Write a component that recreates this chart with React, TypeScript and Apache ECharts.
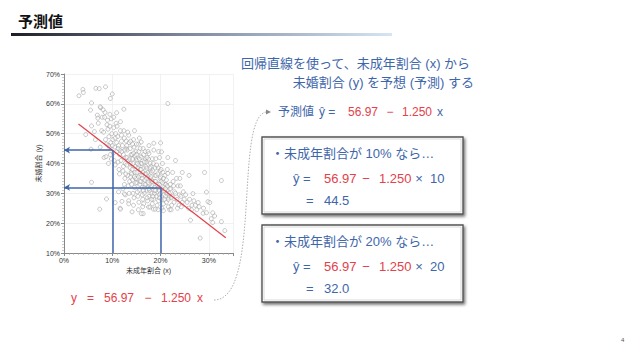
import React, { useEffect, useRef } from "react";
import * as echarts from "echarts";

// ---- data ----
const xAxisRange = [0, 35];
const yAxisRange = [10, 70];
const axisInterval = 10;
const regIntercept = 56.97;
const regSlope = -1.25;
const regXRange = [3, 33.5];
const predictXs = [10, 20];

const sparseUpperPoints: number[][] = [
  [3.1, 62.7], [3.9, 64.8], [4.0, 63.8], [6.6, 65.2], [7.3, 65.1], [8.6, 65.7], [9.6, 61.8], [10.0, 63.3],
  [5.7, 60.3], [5.5, 57.9], [7.6, 58.7], [8.5, 57.1], [6.9, 56.2], [7.0, 55.2], [10.9, 57.0], [4.5, 49.7],
  [5.7, 52.6], [6.3, 50.7], [5.6, 44.8], [5.7, 33.7], [7.4, 24.7], [7.1, 53.5], [7.8, 51.0], [6.5, 48.0],
  [7.9, 55.5], [7.5, 45.5], [8.1, 58.0], [12.4, 58.2], [7.5, 59.0], [21.5, 60.1],
];

const corePoints: number[][] = [
  [8.2, 50.5], [8.6, 48.0], [8.9, 53.0], [8.4, 55.5], [8.8, 46.5], [9.1, 51.5], [8.3, 42.0], [8.7, 42.3], [9.2, 40.0], [9.0, 54.5],
  [9.3, 49.0], [9.5, 52.5], [9.7, 47.0], [9.8, 55.0], [9.4, 45.5], [9.9, 50.0], [9.6, 43.0], [9.2, 46.0], [9.8, 41.5], [9.5, 56.5],
  [10.1, 48.0], [10.3, 52.0], [10.5, 45.5], [10.7, 50.0], [10.2, 43.5], [10.9, 47.0], [10.4, 41.0], [10.8, 53.5], [10.6, 39.5], [10.0, 46.0], [10.9, 44.0], [10.3, 55.5],
  [11.1, 49.0], [11.3, 46.0], [11.5, 43.0], [11.7, 51.0], [11.2, 40.5], [11.9, 47.5], [11.4, 38.0], [11.6, 44.5], [11.8, 41.0], [11.0, 52.5], [11.5, 36.5], [11.9, 49.5], [11.3, 30.5], [11.7, 54.0],
  [12.1, 46.0], [12.3, 43.0], [12.5, 48.5], [12.7, 40.0], [12.2, 37.5], [12.9, 45.0], [12.4, 51.0], [12.6, 35.0], [12.8, 42.0], [12.0, 44.0], [12.3, 39.0], [12.9, 47.5], [12.5, 33.0], [12.7, 29.5], [12.2, 31.5],
  [13.1, 44.5], [13.3, 41.0], [13.5, 47.0], [13.7, 38.5], [13.2, 36.0], [13.9, 43.0], [13.4, 49.5], [13.6, 34.0], [13.8, 40.0], [13.0, 46.0], [13.3, 32.5], [13.9, 37.0], [13.5, 30.0], [13.1, 42.0], [13.7, 45.0], [13.4, 27.5], [13.8, 35.5], [13.2, 50.5],
  [14.1, 43.0], [14.3, 40.0], [14.5, 45.5], [14.7, 37.0], [14.2, 34.5], [14.9, 41.5], [14.4, 48.0], [14.6, 32.0], [14.8, 39.0], [14.0, 36.5], [14.3, 30.0], [14.9, 44.0], [14.5, 28.5], [14.1, 38.0], [14.7, 42.5], [14.4, 26.0], [14.8, 35.0], [14.2, 46.5], [14.6, 51.0], [14.0, 33.0],
  [15.1, 41.0], [15.3, 38.5], [15.5, 44.0], [15.7, 36.0], [15.2, 33.5], [15.9, 40.0], [15.4, 46.5], [15.6, 31.0], [15.8, 38.0], [15.0, 35.0], [15.3, 29.0], [15.9, 42.5], [15.5, 27.0], [15.1, 37.0], [15.7, 33.0], [15.4, 24.5], [15.8, 45.0], [15.2, 30.5], [15.6, 48.5], [15.0, 43.0], [15.5, 39.5],
  [16.1, 40.0], [16.3, 37.0], [16.5, 43.0], [16.7, 34.5], [16.2, 32.0], [16.9, 39.0], [16.4, 45.0], [16.6, 30.0], [16.8, 36.5], [16.0, 34.0], [16.3, 28.0], [16.9, 41.5], [16.5, 26.5], [16.1, 36.0], [16.7, 32.0], [16.4, 23.2], [16.8, 44.0], [16.2, 29.5], [16.0, 47.2], [16.0, 42.0], [16.5, 38.5], [16.3, 25.5],
  [17.1, 38.5], [17.3, 35.5], [17.5, 41.5], [17.7, 33.0], [17.2, 31.0], [17.9, 37.5], [17.4, 44.0], [17.6, 29.0], [17.8, 35.0], [17.0, 33.0], [17.3, 27.5], [17.9, 40.0], [17.5, 25.4], [17.1, 35.0], [17.7, 31.0], [17.6, 43.3], [17.2, 28.5], [17.6, 46.0], [17.0, 40.5], [17.4, 37.0],
  [18.1, 37.0], [18.3, 34.0], [18.5, 40.0], [18.7, 32.0], [18.2, 30.0], [18.9, 36.0], [18.3, 41.6], [18.6, 28.0], [18.8, 34.0], [18.0, 32.0], [18.3, 26.5], [18.9, 38.5], [18.5, 24.7], [18.1, 34.5], [18.7, 30.0], [18.6, 46.8], [18.2, 28.0], [18.6, 44.5], [18.0, 39.0],
  [19.1, 36.0], [19.3, 33.0], [19.5, 38.5], [19.7, 31.0], [19.2, 29.0], [19.9, 35.0], [19.0, 41.6], [19.6, 27.5], [19.8, 33.0], [19.0, 31.0], [19.3, 26.0], [19.9, 37.5], [19.5, 24.5], [19.7, 29.5], [19.8, 42.0], [19.6, 44.0],
  [20.1, 34.0], [20.3, 31.5], [20.5, 37.0], [20.7, 29.5], [20.2, 28.0], [20.9, 33.0], [20.4, 40.0], [20.6, 26.5], [20.8, 31.0], [20.0, 30.0], [20.3, 25.0], [20.9, 36.0], [20.2, 43.9], [20.0, 46.9], [20.1, 38.0], [20.6, 24.2],
  [21.1, 33.0], [21.3, 30.0], [21.5, 36.7], [21.7, 28.5], [21.2, 27.0], [21.9, 31.5], [21.4, 38.0], [21.6, 25.5], [21.8, 30.0], [21.0, 29.0], [21.5, 42.0], [21.9, 24.5], [21.2, 34.5],
  [22.1, 31.5], [22.4, 29.0], [22.6, 34.0], [22.8, 27.0], [22.3, 26.0], [22.9, 30.5], [22.5, 37.0], [22.2, 24.5], [22.7, 32.5],
  [23.1, 30.0], [23.4, 28.0], [23.6, 32.5], [23.8, 26.0], [23.1, 41.0], [23.5, 25.0], [23.9, 29.5], [23.3, 35.0],
  [12.8, 36.5], [13.0, 39.5], [13.6, 41.5], [14.2, 41.5], [14.6, 35.5], [14.9, 33.5], [15.2, 40.0], [15.4, 35.5], [15.8, 34.0], [15.6, 41.5],
  [16.0, 38.0], [16.2, 35.0], [16.6, 40.5], [16.8, 33.0], [16.4, 31.0], [17.0, 36.5], [17.2, 42.0], [17.4, 33.5], [17.8, 38.5], [17.6, 31.5],
  [18.0, 35.5], [18.4, 37.5], [18.2, 32.5], [18.8, 31.0], [18.4, 29.0], [19.0, 34.0], [19.4, 36.5], [19.2, 39.5], [19.6, 32.0], [19.8, 28.5],
  [20.0, 35.5], [20.4, 33.5], [20.6, 35.0], [20.8, 28.0], [21.0, 31.5], [21.4, 32.5], [21.6, 28.0], [22.0, 33.0], [22.2, 28.5], [13.8, 47.5],
  [12.6, 44.5], [11.2, 45.0], [10.6, 48.5], [14.4, 43.5], [15.0, 46.5],
];

const sparseLowerPoints: number[][] = [
  [8.8, 28.1], [10.6, 26.9], [11.6, 25.0], [12.0, 27.3], [11.7, 24.7], [12.5, 29.8], [13.4, 26.5], [14.1, 23.8], [16.0, 23.2], [17.8, 25.4], [18.9, 24.7],
  [24.0, 35.0], [24.1, 32.5], [24.5, 37.0], [24.2, 29.0], [24.5, 27.0], [24.7, 30.5], [24.3, 25.5], [24.9, 28.0], [25.9, 36.0],
  [25.2, 29.5], [25.5, 27.0], [25.8, 25.0], [26.0, 28.0], [26.2, 21.0], [26.5, 26.0], [26.7, 29.9], [26.4, 24.5], [26.9, 27.5],
  [27.2, 26.0], [27.5, 24.5], [27.8, 26.9], [28.0, 25.5], [28.2, 15.0], [28.8, 23.3], [28.9, 25.0], [29.1, 37.0], [29.5, 30.4], [29.8, 27.2], [29.5, 23.5],
  [30.2, 26.9], [30.8, 23.5], [31.2, 22.4], [30.8, 20.2], [30.5, 21.5], [32.6, 20.5], [32.6, 34.3], [33.3, 17.5],
];

// ---- styles ----
const BLUE = "#3e66aa";
const RED = "#e3414b";
const FONT = "'Liberation Sans', 'Noto Sans CJK JP', sans-serif";

const predY = (x: number) => regIntercept + regSlope * x;

function txt(x: number, y: number, text: string, fill: string, size = 13, extra: any = {}) {
  return {
    type: "text",
    x,
    y,
    z: 20,
    style: { text, fill, font: `${size}px ${FONT}`, verticalAlign: "middle", align: "left", ...extra },
  };
}

function box(x: number, y: number, w: number, h: number) {
  return [
    {
      type: "rect",
      z: 10,
      shape: { x, y, width: w, height: h },
      style: {
        fill: "#fff",
        stroke: "#555",
        lineWidth: 1.4,
        shadowBlur: 3,
        shadowOffsetX: 1.5,
        shadowOffsetY: 2,
        shadowColor: "rgba(0,0,0,0.55)",
      },
    },
    {
      type: "rect",
      z: 11,
      shape: { x: x + 2, y: y + 2, width: w - 4, height: h - 4 },
      style: { fill: "none", stroke: "#cfcfcf", lineWidth: 0.8 },
    },
  ];
}

function predictionBlock(xv: number, top: number) {
  const yv = predY(xv).toFixed(1);
  const l1 = top + 16.5;
  const l2 = top + 41;
  const l3 = top + 63;
  return [
    ...box(262, top, 201, 77),
    txt(271, l1, `・未成年割合が ${xv}% なら…`, BLUE, 13),
    txt(293, l2, "ŷ =", BLUE, 13),
    txt(324, l2, regIntercept.toFixed(2), RED, 13),
    txt(366, l2, "−", RED, 13, { align: "center" }),
    txt(379, l2, Math.abs(regSlope).toFixed(3), RED, 13),
    txt(419, l2, "×", BLUE, 13, { align: "center" }),
    txt(430, l2, String(xv), BLUE, 13),
    txt(306, l3, "=", BLUE, 13),
    txt(324, l3, yv, BLUE, 13),
  ];
}

export default function App() {
  const ref = useRef<HTMLDivElement>(null);

  useEffect(() => {
    if (!ref.current) return;
    const chart = echarts.init(ref.current, undefined, { renderer: "svg" });

    const regLine = regXRange.map((x) => [x, predY(x)]);

    const guideData: any[] = [];
    predictXs.forEach((xv) => {
      const yv = predY(xv);
      guideData.push([
        { coord: [xv, yAxisRange[0]], symbol: "none" },
        { coord: [xv, yv], symbol: "none" },
      ]);
      guideData.push([
        { coord: [xv, yv], symbol: "none" },
        { coord: [xAxisRange[0], yv], symbol: "arrow", symbolSize: [5, 6] },
      ]);
    });

    const axisCommon = {
      type: "value",
      interval: axisInterval,
      axisLine: { show: true, lineStyle: { color: "#888", width: 1 } },
      axisTick: { show: true, length: 3, lineStyle: { color: "#888" } },
      minorTick: { show: true, splitNumber: 10, length: 2, lineStyle: { color: "#aaa", width: 0.6 } },
      splitLine: { show: true, lineStyle: { color: "#eeeeee", width: 0.8 } },
      nameLocation: "middle",
      nameTextStyle: { fontSize: 7, color: "#333", fontFamily: FONT },
    };
    const labelCommon = { formatter: "{value}%", fontSize: 7, color: "#333", margin: 4, fontFamily: FONT };

    const graphic: any[] = [
      // title
      { type: "text", x: 18, y: 21, z: 20, style: { text: "予測値", fill: "#111", font: `bold 15px ${FONT}`, verticalAlign: "middle" } },
      {
        type: "rect",
        z: 5,
        shape: { x: 11, y: 33, width: 381, height: 3 },
        style: {
          fill: new echarts.graphic.LinearGradient(0, 0, 1, 0, [
            { offset: 0, color: "#1d1d28" },
            { offset: 0.45, color: "#7c879c" },
            { offset: 1, color: "#d6e4f3" },
          ]),
        },
      },
      // headline
      txt(241, 63, "回帰直線を使って、未成年割合 (x) から", BLUE, 13),
      txt(474, 82, "未婚割合 (y) を予想 (予測) する", BLUE, 13, { align: "right" }),
      // top formula
      txt(278, 112, "予測値", BLUE, 12),
      txt(319, 112, "ŷ =", BLUE, 12),
      txt(348, 112, regIntercept.toFixed(2), RED, 12),
      txt(390, 112, "−", RED, 12, { align: "center" }),
      txt(402, 112, Math.abs(regSlope).toFixed(3), RED, 12),
      txt(437, 112, "x", BLUE, 12),
      // bottom formula
      txt(71, 298, "y", RED, 12),
      txt(87, 298, "=", RED, 12),
      txt(104, 298, regIntercept.toFixed(2), RED, 12),
      txt(148, 298, "−", RED, 12, { align: "center" }),
      txt(161, 298, Math.abs(regSlope).toFixed(3), RED, 12),
      txt(197, 298, "x", RED, 12),
      // dotted connector
      {
        type: "bezierCurve",
        z: 2,
        shape: { x1: 214, y1: 300, cpx1: 262, cpy1: 300, cpx2: 234, cpy2: 118, x2: 266, y2: 112 },
        style: { stroke: "#999", lineWidth: 0.8, lineDash: [1.5, 1.5], fill: "none" },
      },
      {
        type: "polygon",
        z: 2,
        shape: { points: [[271, 112], [266, 109.5], [266, 114.5]] },
        style: { fill: "#888" },
      },
      ...predictionBlock(predictXs[0], 137),
      ...predictionBlock(predictXs[1], 225),
      // page number
      { type: "text", x: 621, y: 340, z: 20, style: { text: "4", fill: "#555", font: `6px ${FONT}`, verticalAlign: "middle" } },
    ];

    chart.setOption({
      animation: false,
      backgroundColor: "#fff",
      grid: { left: 64, top: 74, right: 407, bottom: 106, containLabel: false },
      xAxis: {
        ...axisCommon,
        min: xAxisRange[0],
        max: xAxisRange[1],
        axisLabel: { ...labelCommon, showMaxLabel: false },
        name: "未成年割合 (x)",
        nameGap: 14,
      },
      yAxis: {
        ...axisCommon,
        min: yAxisRange[0],
        max: yAxisRange[1],
        axisLabel: { ...labelCommon },
        name: "未婚割合 (y)",
        nameGap: 14,
      },
      graphic,
      series: [
        {
          type: "scatter",
          data: [...sparseUpperPoints, ...corePoints, ...sparseLowerPoints],
          symbol: "circle",
          symbolSize: 4,
          itemStyle: { color: "rgba(255,255,255,0.5)", borderColor: "#9a9a9a", borderWidth: 0.7 },
          z: 2,
        },
        {
          type: "line",
          data: regLine,
          symbol: "none",
          lineStyle: { color: RED, width: 1.2 },
          z: 3,
        },
        {
          type: "line",
          data: [],
          z: 4,
          markLine: {
            silent: true,
            animation: false,
            label: { show: false },
            lineStyle: { color: BLUE, width: 1.5, type: "solid" },
            data: guideData,
          },
        },
      ],
    });

    return () => chart.dispose();
  }, []);

  return (
    <div
      ref={ref}
      style={{ position: "fixed", left: 0, top: 0, width: 640, height: 359, background: "#fff" }}
    />
  );
}
